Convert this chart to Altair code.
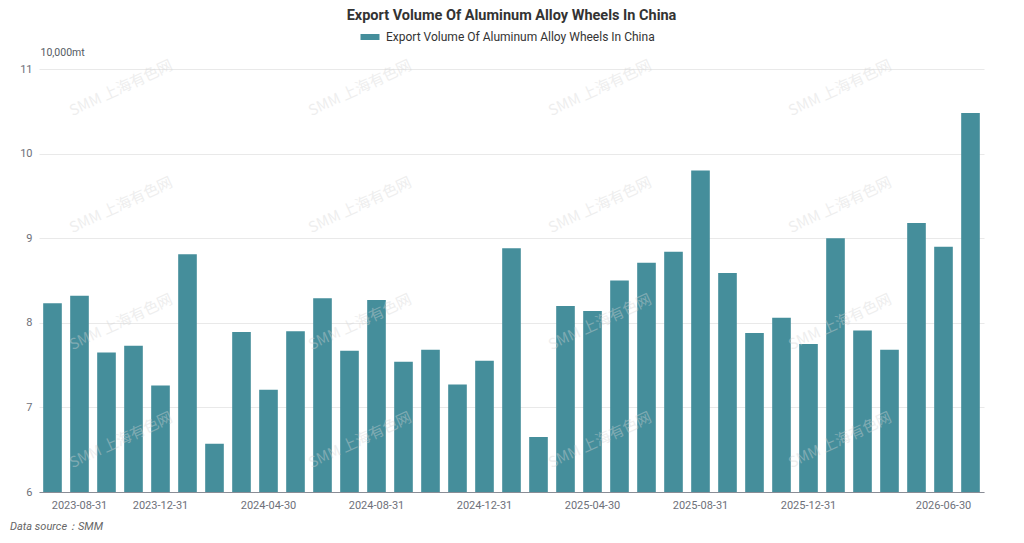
import altair as alt
import pandas as pd

series_name = "Export Volume Of Aluminum Alloy Wheels In China"

dates = [
    "2023-07-31", "2023-08-31", "2023-09-30", "2023-10-31", "2023-12-31",
    "2024-01-31", "2024-02-29", "2024-03-31", "2024-04-30", "2024-05-31", "2024-06-30",
    "2024-07-31", "2024-08-31", "2024-09-30", "2024-10-31", "2024-11-30", "2024-12-31",
    "2025-01-31", "2025-02-28", "2025-03-31", "2025-04-30", "2025-05-31", "2025-06-30",
    "2025-07-31", "2025-08-31", "2025-09-30", "2025-10-31", "2025-11-30", "2025-12-31",
    "2026-01-31", "2026-02-28", "2026-03-31", "2026-04-30", "2026-06-30", "2026-07-31",
]

values = [
    8.23, 8.32, 7.65, 7.73, 7.26,
    8.81, 6.57, 7.89, 7.21, 7.90, 8.29,
    7.67, 8.27, 7.54, 7.68, 7.27, 7.55,
    8.88, 6.65, 8.20, 8.14, 8.50, 8.71,
    8.84, 9.80, 8.59, 7.88, 8.06, 7.75,
    9.00, 7.91, 7.68, 9.18, 8.90, 10.48,
]

tick_labels = [
    "2023-08-31", "2023-12-31", "2024-04-30", "2024-08-31", "2024-12-31",
    "2025-04-30", "2025-08-31", "2025-12-31", "2026-06-30",
]

y_ticks = [6, 7, 8, 9, 10, 11]

BAR = "#458e9b"
FONT = "Roboto"

df = pd.DataFrame({"date": dates, "value": values, "series": series_name})
one = pd.DataFrame({"k": [0]})

bars = alt.Chart(df).mark_bar(color=BAR, clip=True).encode(
    x=alt.X(
        "date:N",
        sort=None,
        scale=alt.Scale(paddingInner=0.31, paddingOuter=0.155),
        axis=alt.Axis(
            values=tick_labels,
            title=None,
            labelAngle=0,
            ticks=False,
            labelPadding=7,
            labelFontSize=11,
            labelColor="#6e7079",
            labelFont=FONT,
            domainColor="#8a8d96",
            domainWidth=1,
            grid=False,
        ),
    ),
    y=alt.Y(
        "value:Q",
        scale=alt.Scale(domain=[6, 11], nice=False, zero=False),
        axis=alt.Axis(
            values=y_ticks,
            title="10,000mt",
            titleAngle=0,
            titleX=1,
            titleY=-12,
            titleAlign="left",
            titleBaseline="bottom",
            titleFontSize=10.5,
            titleFontWeight="normal",
            titleColor="#555a63",
            titleFont=FONT,
            labelFontSize=11,
            labelColor="#6e7079",
            labelFont=FONT,
            labelPadding=7,
            ticks=False,
            domain=False,
            grid=True,
            gridColor="#e9e9e9",
            gridWidth=1,
        ),
    ),
    color=alt.Color(
        "series:N",
        scale=alt.Scale(domain=[series_name], range=[BAR]),
        legend=alt.Legend(
            title=None,
            orient="none",
            legendX=321,
            legendY=-42,
            direction="horizontal",
            symbolType="M-0.95,-0.3H0.95V0.3H-0.95Z",
            symbolSize=400,
            symbolStrokeWidth=0,
            labelFontSize=12,
            labelFont=FONT,
            labelColor="#333333",
            labelOffset=6,
            labelLimit=400,
        ),
    ),
)

source = alt.Chart(one).mark_text(
    text="Data source：SMM",
    align="left",
    baseline="middle",
    fontStyle="italic",
    fontSize=11,
    font=FONT,
    color="#666666",
).encode(x=alt.value(-29), y=alt.value(458))

watermarks = []
for wx in [82, 321, 561, 801]:
    for wy in [19, 136, 253, 371]:
        watermarks.append(
            alt.Chart(one).mark_text(
                text="SMM 上海有色网",
                angle=335,
                fontSize=15,
                font="Noto Sans CJK SC",
                color="#d6d6d6",
                opacity=0.4,
            ).encode(x=alt.value(wx), y=alt.value(wy))
        )

chart = alt.layer(bars, source, *watermarks).properties(
    width=945,
    height=423,
    autosize="none",
    padding={"left": 31, "top": 61, "right": 32, "bottom": 51},
    title=alt.TitleParams(
        text="Export Volume Of Aluminum Alloy Wheels In China",
        anchor="middle",
        fontSize=14.5,
        fontWeight="bold",
        font=FONT,
        color="#333333",
        offset=4,
    ),
).configure_view(stroke=None)

chart.save("out.html", embed_options={"renderer": "svg", "actions": False})
